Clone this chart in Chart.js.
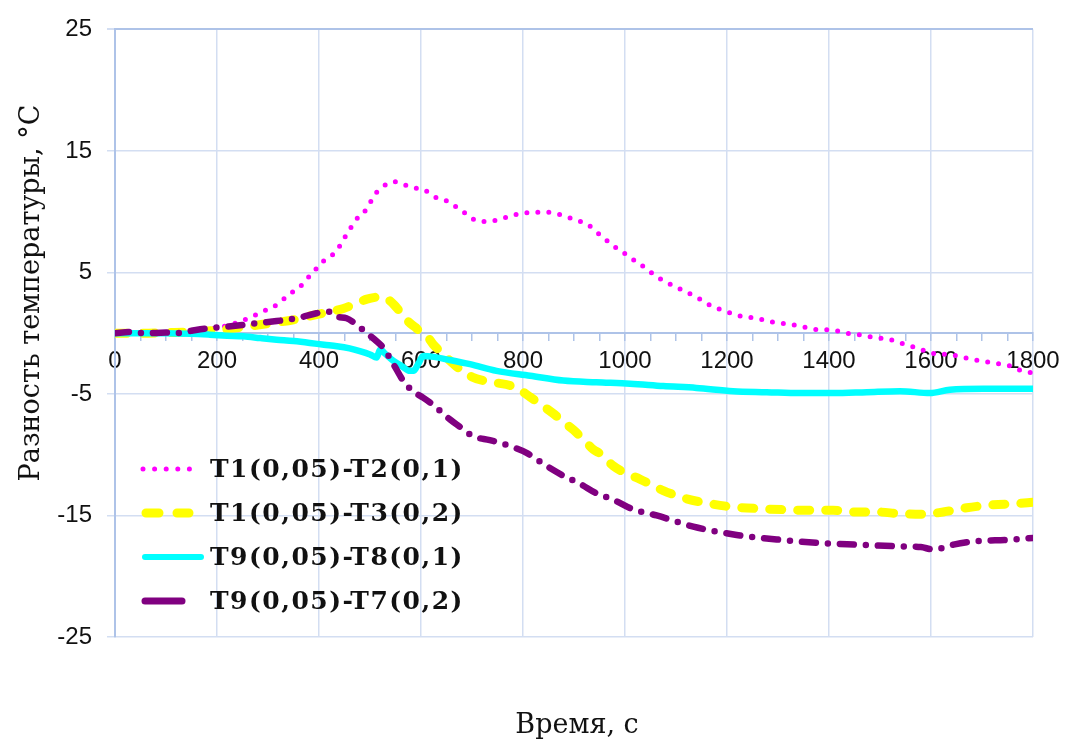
<!DOCTYPE html>
<html>
<head>
<meta charset="utf-8">
<script src="https://cdn.jsdelivr.net/npm/chart.js@4/dist/chart.umd.min.js"></script>
<style>
  html, body { margin: 0; padding: 0; background: #ffffff; }
  #wrap { width: 1079px; height: 742px; }
</style>
</head>
<body>
<div id="wrap"><canvas id="c"></canvas></div>
<script>
// Temperature differences between thermocouples, °C, against time, s
const t1t2Time = [0, 50, 100, 150, 180, 206, 225, 241, 265, 278, 290, 311, 324, 340, 356, 369, 382, 394, 407, 421, 436, 446, 457, 467, 479, 492, 502, 512, 523, 534, 548, 563, 578, 595, 608, 623, 640, 657, 670, 685, 699, 716, 733, 750, 766, 781, 797, 814, 830, 848, 865, 880, 897, 912, 927, 941, 955, 972, 990, 1008, 1023, 1039, 1060, 1095, 1140, 1167, 1199, 1232, 1258, 1291, 1324, 1356, 1382, 1402, 1435, 1467, 1493, 1513, 1546, 1562, 1578, 1595, 1611, 1631, 1663, 1697, 1729, 1755, 1768, 1784, 1800];
const t1t2Diff = [0, 0, 0.05, 0.15, 0.3, 0.47, 0.69, 0.9, 1.3, 1.55, 1.8, 2.17, 2.58, 3.12, 3.66, 4.07, 4.74, 5.28, 5.88, 6.28, 6.85, 7.58, 8.3, 9.0, 9.66, 10.14, 10.87, 11.55, 11.98, 12.3, 12.46, 12.3, 12.03, 11.9, 11.77, 11.3, 11.0, 10.8, 10.36, 9.93, 9.47, 9.2, 9.2, 9.33, 9.52, 9.74, 9.79, 9.95, 9.95, 9.95, 9.82, 9.68, 9.41, 9.2, 8.93, 8.47, 7.93, 7.39, 6.77, 6.36, 5.82, 5.41, 4.7, 3.9, 2.98, 2.3, 1.77, 1.36, 1.23, 0.9, 0.74, 0.47, 0.28, 0.28, 0.0, -0.18, -0.39, -0.45, -0.88, -1.07, -1.34, -1.47, -1.74, -1.74, -2.0, -2.28, -2.5, -2.69, -2.96, -3.1, -3.3];

const t1t3Time = [0, 50, 100, 150, 200, 250, 300, 350, 376, 420, 448, 480, 494, 510, 523, 536, 548, 559, 569, 575, 590, 601, 611, 624, 637, 655, 676, 700, 722, 750, 775, 795, 814, 836, 859, 879, 899, 920, 938, 951, 977, 1000, 1029, 1075, 1121, 1167, 1212, 1265, 1310, 1356, 1408, 1448, 1493, 1539, 1585, 1624, 1670, 1722, 1768, 1800];
const t1t3Diff = [0, 0, 0.05, 0.1, 0.25, 0.5, 0.8, 1.1, 1.36, 1.75, 2.04, 2.58, 2.8, 2.95, 2.98, 2.75, 2.3, 1.77, 1.36, 0.96, 0.45, 0.0, -0.2, -0.93, -1.47, -2.2, -2.96, -3.6, -3.9, -4.1, -4.31, -4.7, -5.25, -5.9, -6.6, -7.3, -7.96, -8.8, -9.58, -9.9, -10.92, -11.5, -12.0, -12.95, -13.63, -14.03, -14.3, -14.44, -14.52, -14.57, -14.57, -14.71, -14.71, -14.85, -14.9, -14.71, -14.36, -14.12, -14.03, -13.9];

const t9t8Time = [0, 50, 100, 150, 186, 220, 252, 285, 317, 350, 382, 410, 435, 460, 480, 500, 513, 520, 530, 546, 562, 578, 585, 595, 604, 625, 650, 696, 748, 814, 879, 944, 1010, 1075, 1140, 1212, 1278, 1343, 1408, 1474, 1539, 1598, 1637, 1703, 1800];
const t9t8Diff = [0, 0, 0, -0.05, -0.12, -0.2, -0.26, -0.4, -0.53, -0.65, -0.8, -0.95, -1.07, -1.25, -1.47, -1.75, -2.0, -1.34, -1.7, -2.28, -2.7, -3.1, -3.1, -2.5, -1.88, -1.95, -2.15, -2.55, -3.1, -3.5, -3.9, -4.04, -4.15, -4.35, -4.5, -4.77, -4.85, -4.93, -4.93, -4.85, -4.77, -4.93, -4.66, -4.58, -4.58];

const t9t7Time = [0, 30, 60, 100, 121, 150, 186, 220, 252, 285, 317, 356, 395, 410, 421, 435, 454, 474, 494, 513, 526, 546, 565, 585, 604, 624, 650, 676, 703, 735, 775, 807, 846, 879, 912, 945, 977, 1016, 1062, 1134, 1219, 1304, 1389, 1453, 1539, 1580, 1605, 1644, 1683, 1755, 1800];
const t9t7Diff = [0, 0.1, 0, 0.05, 0, 0.2, 0.42, 0.55, 0.69, 0.85, 1.0, 1.23, 1.64, 1.75, 1.77, 1.36, 1.23, 0.69, 0, -0.66, -1.2, -2.55, -3.9, -4.8, -5.3, -5.9, -6.87, -7.7, -8.49, -8.8, -9.3, -9.85, -10.92, -11.73, -12.4, -13.2, -13.7, -14.5, -15.0, -15.92, -16.6, -17.0, -17.28, -17.4, -17.54, -17.6, -17.8, -17.4, -17.14, -17.0, -16.85];

const seriesLabels = ['T1(0,05)-T2(0,1)', 'T1(0,05)-T3(0,2)', 'T9(0,05)-T8(0,1)', 'T9(0,05)-T7(0,2)'];
const xTicks = [0, 200, 400, 600, 800, 1000, 1200, 1400, 1600, 1800];
const yTicks = [-25, -15, -5, 5, 15, 25];
const xTitle = 'Время, с';
const yTitle = 'Разность температуры, °С';

const toPoints = (ts, vs) => ts.map((t, i) => ({ x: t, y: vs[i] }));

const GRID = '#d3def2';
const AXIS = '#aec3e8';

// Line sample shown in the legend for each series
const legendSamples = [
  { from: 143, to: 201, width: 5, dash: [0, 11.6] },
  { from: 146, to: 189, width: 9, dash: [13, 18] },
  { from: 145, to: 201, width: 6, dash: [] },
  { from: 145, to: 182, width: 7, dash: [] }
];

const legendPlugin = {
  id: 'innerLegend',
  afterDraw(chart) {
    const ctx = chart.ctx;
    ctx.save();
    chart.data.datasets.forEach((ds, i) => {
      const s = legendSamples[i];
      const y = 469 + i * 44;
      ctx.beginPath();
      ctx.strokeStyle = ds.borderColor;
      ctx.lineWidth = s.width;
      ctx.lineCap = 'round';
      ctx.setLineDash(s.dash);
      ctx.moveTo(s.from, y);
      ctx.lineTo(s.to, y);
      ctx.stroke();
      ctx.setLineDash([]);
      ctx.fillStyle = '#111111';
      ctx.font = 'bold 25px "DejaVu Serif"';
      ctx.letterSpacing = '1.5px';
      ctx.textAlign = 'left';
      ctx.textBaseline = 'middle';
      ctx.fillText(ds.label, 210, y + 1);
      ctx.letterSpacing = '0px';
    });
    ctx.restore();
  }
};

const axisTitlePlugin = {
  id: 'axisTitles',
  afterDraw(chart) {
    const ctx = chart.ctx;
    ctx.save();
    ctx.fillStyle = '#111111';
    ctx.font = '27px "DejaVu Serif"';
    ctx.textAlign = 'center';
    ctx.textBaseline = 'alphabetic';
    ctx.fillText(xTitle, 577, 733);
    ctx.translate(39, 293);
    ctx.rotate(-Math.PI / 2);
    ctx.fillText(yTitle, 0, 0);
    ctx.restore();
  }
};

new Chart(document.getElementById('c'), {
  type: 'line',
  data: {
    datasets: [
      {
        label: seriesLabels[0],
        data: toPoints(t1t2Time, t1t2Diff),
        borderColor: '#ff00ff',
        borderWidth: 5,
        borderDash: [0, 11],
        borderCapStyle: 'round',
        order: 4
      },
      {
        label: seriesLabels[1],
        data: toPoints(t1t3Time, t1t3Diff),
        borderColor: '#ffff00',
        borderWidth: 9,
        borderDash: [12, 16],
        borderCapStyle: 'round',
        order: 3
      },
      {
        label: seriesLabels[2],
        data: toPoints(t9t8Time, t9t8Diff),
        borderColor: '#00ffff',
        borderWidth: 6.5,
        borderCapStyle: 'round',
        order: 2
      },
      {
        label: seriesLabels[3],
        data: toPoints(t9t7Time, t9t7Diff),
        borderColor: '#800080',
        borderWidth: 6.5,
        borderDash: [14, 12, 0, 12],
        borderCapStyle: 'round',
        order: 1
      }
    ]
  },
  options: {
    responsive: true,
    maintainAspectRatio: false,
    animation: false,
    devicePixelRatio: 1,
    layout: { padding: { left: 0, top: 20, right: 46, bottom: 105 } },
    elements: {
      point: { radius: 0, hoverRadius: 0 },
      line: { cubicInterpolationMode: 'monotone', fill: false }
    },
    plugins: {
      legend: { display: false },
      tooltip: { enabled: false },
      title: { display: false }
    },
    scales: {
      x: {
        type: 'linear',
        min: 0,
        max: 1800,
        position: { y: 0 },
        afterBuildTicks(axis) {
          const ticks = [];
          for (let v = xTicks[0]; v <= xTicks[xTicks.length - 1]; v += 50) ticks.push({ value: v });
          axis.ticks = ticks;
        },
        ticks: {
          autoSkip: false,
          maxRotation: 0,
          padding: 7,
          color: '#111111',
          font: { family: '"Liberation Sans", Arial, sans-serif', size: 24 },
          callback: (v) => (xTicks.includes(v) ? String(v) : '')
        },
        grid: {
          color: (c) => (c.tick && xTicks.includes(c.tick.value) ? GRID : 'rgba(0,0,0,0)'),
          lineWidth: 1.5,
          tickColor: AXIS,
          tickLength: 7,
          drawTicks: true
        },
        border: { color: AXIS, width: 2 }
      },
      y: {
        type: 'linear',
        min: -25,
        max: 25,
        position: 'left',
        afterBuildTicks(axis) {
          axis.ticks = yTicks.map((v) => ({ value: v }));
        },
        afterFit(axis) { axis.width = 115; },
        ticks: {
          padding: 15,
          color: '#111111',
          font: { family: '"Liberation Sans", Arial, sans-serif', size: 24 }
        },
        grid: {
          color: (c) => (c.tick && c.tick.value === 25 ? AXIS : GRID),
          lineWidth: (c) => (c.tick && c.tick.value === 25 ? 2 : 1.5),
          tickColor: GRID,
          tickLength: 8
        },
        border: { color: AXIS, width: 2 }
      }
    }
  },
  plugins: [legendPlugin, axisTitlePlugin]
});
</script>
</body>
</html>
